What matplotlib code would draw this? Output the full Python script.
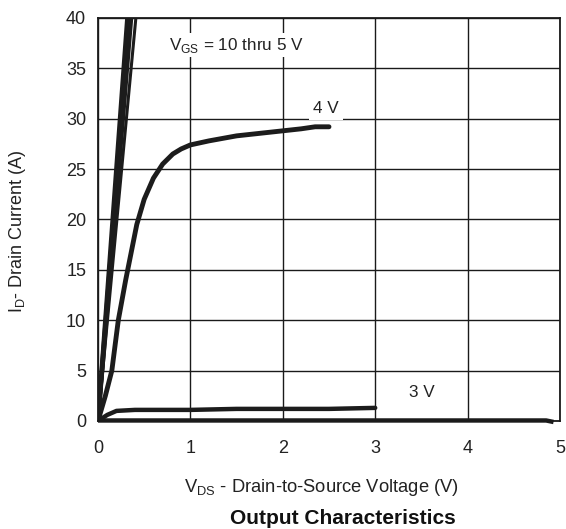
import matplotlib
matplotlib.use('Agg')
import matplotlib.pyplot as plt

plt.rcParams['font.family'] = ['Liberation Sans', 'DejaVu Sans']

# steep curves, VGS = 10 thru 5 V (end point at top of plot)
steep_vds = [[0, 0.318], [0, 0.338], [0, 0.358], [0, 0.41]]
steep_id = [[0, 40], [0, 40], [0, 40], [0, 40]]

# VGS = 4 V
vds_4v = [0, 0.08, 0.15, 0.22, 0.3, 0.42, 0.5, 0.6, 0.7, 0.81, 0.9, 1.0, 1.2, 1.5, 1.8, 2.0, 2.2, 2.35, 2.5]
id_4v = [0, 2.5, 5, 10, 14, 19.5, 22, 24.1, 25.5, 26.5, 27.0, 27.4, 27.8, 28.3, 28.6, 28.8, 29.0, 29.2, 29.2]

# VGS = 3 V
vds_3v = [0, 0.1, 0.2, 0.4, 1.0, 1.5, 2.0, 2.5, 3.0]
id_3v = [0, 0.6, 1.0, 1.1, 1.1, 1.2, 1.2, 1.2, 1.3]

# lowest curve (near zero current)
vds_low = [0, 1, 2, 3, 4, 4.85, 4.93]
id_low = [0.05, 0.05, 0.05, 0.05, 0.05, 0.05, -0.1]

xticks = [0, 1, 2, 3, 4, 5]
yticks = [0, 5, 10, 15, 20, 25, 30, 35, 40]

line_col = '#1c1c1c'
txt_col = '#222222'
fig = plt.figure(figsize=(5.66, 5.29), dpi=100)
ax = fig.add_axes([0.1731, 0.2042, 0.8163, 0.7618])

for i, (xs, ys) in enumerate(zip(steep_vds, steep_id)):
    ax.plot(xs, ys, color=line_col, lw=3.2 if i < 3 else 2.2, solid_capstyle='butt')
ax.plot(vds_4v, id_4v, color=line_col, lw=3.5, solid_capstyle='round')
ax.plot(vds_3v, id_3v, color=line_col, lw=3.2, solid_capstyle='round')
ax.plot(vds_low, id_low, color=line_col, lw=3.2, solid_capstyle='butt', clip_on=False)

ax.set_xlim(0, 5)
ax.set_ylim(0, 40)
ax.set_xticks(xticks)
ax.set_yticks(yticks)
ax.grid(True, color='#1a1a1a', lw=1.0)
ax.set_axisbelow(True)
ax.tick_params(length=0, labelsize=13, labelcolor=txt_col)
ax.tick_params(axis='x', pad=13.5)
ax.tick_params(axis='y', pad=8.5)
for s in ax.spines.values():
    s.set_color('#1a1a1a')
    s.set_linewidth(1.3)

ax.text(1.5, 37.3, r'V$_{\mathregular{GS}}$ = 10 thru 5 V', fontsize=12.3, color=txt_col,
        ha='center', va='center', bbox=dict(fc='white', ec='none', pad=2))
ax.text(2.47, 31.0, '4 V', fontsize=12.3, color=txt_col, ha='center', va='center',
        bbox=dict(fc='white', ec='none', pad=3))
ax.text(3.5, 2.8, '3 V', fontsize=12.3, color=txt_col, ha='center', va='center',
        bbox=dict(fc='white', ec='none', pad=2))

fig.text(17.5 / 566, 1 - 231 / 529, r'I$_{\mathregular{D}}$- Drain Current (A)', fontsize=13,
         color=txt_col, rotation=90, ha='center', va='center')
fig.text(321.5 / 566, 1 - 488 / 529, r'V$_{\mathregular{DS}}$ - Drain-to-Source Voltage (V)',
         fontsize=13.2, color=txt_col, ha='center', va='center')
fig.text(342.5 / 566, 1 - 519 / 529, 'Output Characteristics', fontsize=15, fontweight='bold',
         color='#111111', ha='center', va='center')

fig.savefig('out.png', dpi=100)
